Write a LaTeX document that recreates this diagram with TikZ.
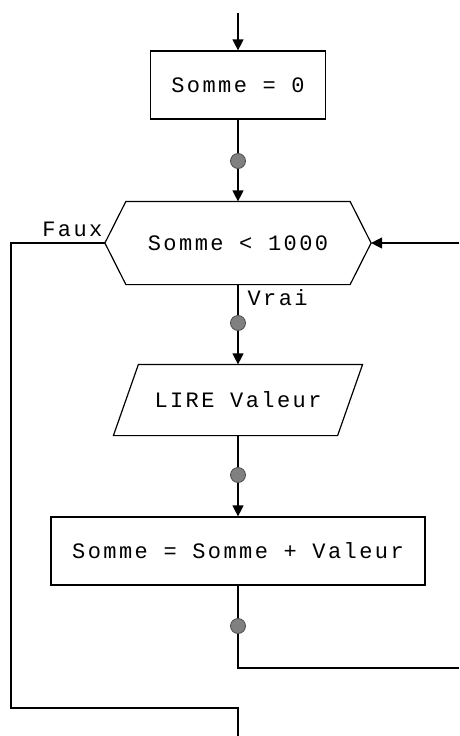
\documentclass[tikz,border=0pt]{standalone}
\usepackage{fontspec}
\setmonofont[LetterSpace=11]{Liberation Mono}
\usetikzlibrary{arrows.meta,calc}
\begin{document}
\begin{tikzpicture}[x=1pt,y=-1pt,
  line width=1.2pt,
  every node/.style={font=\ttfamily\fontsize{22}{24}\selectfont},
  box/.style={draw, rectangle, inner sep=0pt},
  ghost/.style={rectangle, inner sep=0pt},
  dot/.style={circle, draw=black!70, fill=black!50, line width=0.8pt, minimum size=15pt, inner sep=0pt},
  arr/.style={-{Triangle[length=11pt,width=11pt]}},
  lbl/.style={inner sep=0pt}]
\useasboundingbox (0,0) rectangle (459,736);
% nodes
\node[box, minimum width=175pt, minimum height=68pt] (b1) at (238,85) {Somme = 0};
\node[ghost, minimum width=265pt, minimum height=82pt] (hex) at (238,243) {Somme < 1000};
\node[ghost, minimum width=248pt, minimum height=70pt] (par) at (238,400) {LIRE Valeur};
\node[box, minimum width=374pt, minimum height=68pt] (b3) at (238,551) {Somme = Somme + Valeur};
% shapes
\draw (hex.west) -- ($(hex.north west)+(21,0)$) -- ($(hex.north east)+(-21,0)$) -- (hex.east)
      -- ($(hex.south east)+(-21,0)$) -- ($(hex.south west)+(21,0)$) -- cycle;
\draw ($(par.north west)+(25,0)$) -- (par.north east) -- ($(par.south east)+(-25,0)$) -- (par.south west) -- cycle;
% coordinates
\coordinate (top) at (238,13);
\coordinate (d1) at (238,161);
\coordinate (d2) at (238,323);
\coordinate (d3) at (238,475);
\coordinate (d4) at (238,626);
\coordinate (rb) at (238,668);
\coordinate (re) at (459,668);
\coordinate (rt) at (459,243);
\coordinate (lt) at (11,243);
\coordinate (lb) at (11,708);
\coordinate (mb) at (238,708);
\coordinate (bot) at (238,736);
% connectors
\draw[arr] (top) -- (b1.north);
\draw (b1.south) -- (d1);
\draw[arr] (d1) -- (hex.north);
\draw (hex.south) -- (d2);
\draw[arr] (d2) -- (par.north);
\draw (par.south) -- (d3);
\draw[arr] (d3) -- (b3.north);
\draw (b3.south) -- (d4) -- (rb) -- (re);
\draw[arr] (rt) -- (hex.east);
\draw (hex.west) -- (lt) -- (lb) -- (mb) -- (bot);
% dots
\node[dot] (n1) at (d1) {};
\node[dot] (n2) at (d2) {};
\node[dot] (n3) at (d3) {};
\node[dot] (n4) at (d4) {};
% labels
\node[lbl, anchor=east] (faux) at (103,229) {Faux};
\node[lbl, anchor=west] (vrai) at (247,298) {Vrai};
\end{tikzpicture}
\end{document}
